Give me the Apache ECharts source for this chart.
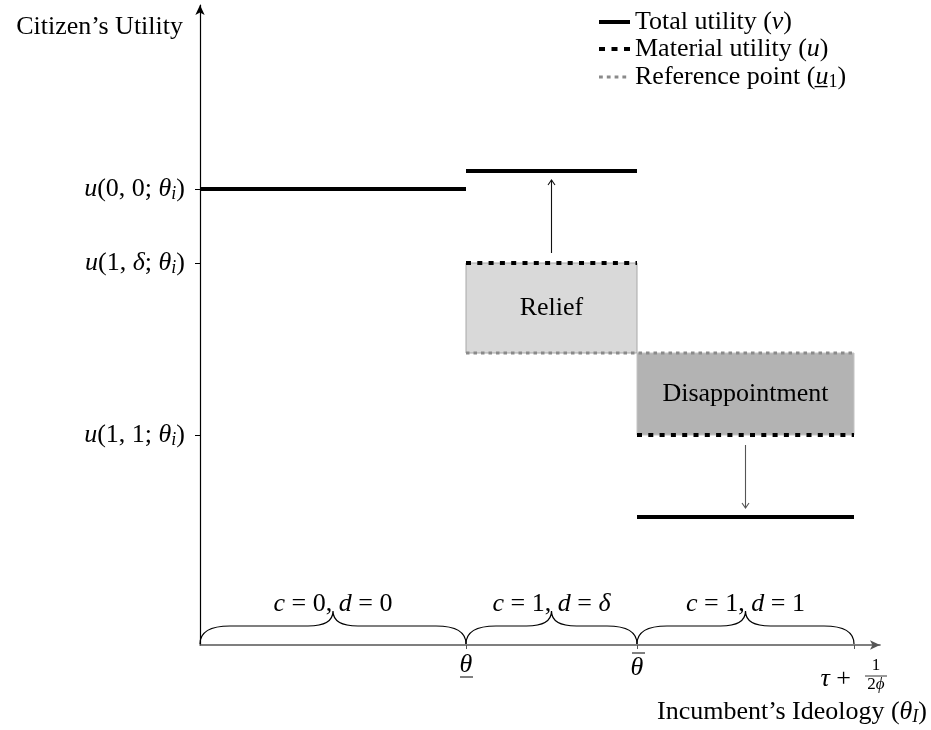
<!DOCTYPE html>
<html>
<head>
<meta charset="utf-8">
<script src="https://cdn.jsdelivr.net/npm/echarts@6/dist/echarts.min.js"></script>
<style>
  html, body { margin: 0; padding: 0; background: #fff; }
  #chart { width: 931px; height: 730px; }
</style>
</head>
<body>
<div id="chart"></div>
<script>
// regimes along the incumbent's ideology axis
const regimeStart = [0, 2.66, 4.37];
const regimeEnd = [2.66, 4.37, 6.54];
const regimeLabels = ['{i|c} = 0, {i|d} = 0', '{i|c} = 1, {i|d} = {i|δ}', '{i|c} = 1, {i|d} = 1'];

// utility levels in each regime (null = not drawn)
const totalLevel = [4.56, 4.74, 1.28];
const materialLevel = [null, 3.82, 2.10];
const referenceLevel = [null, 2.92, 2.92];

// shaded gaps between material utility and reference point
const boxLabels = [null, 'Relief', 'Disappointment'];

// axis ticks
const yTickValues = [4.56, 3.82, 2.10];
const yTickLabels = ['{i|u}(0, 0; {i|θ}{s|i})', '{i|u}(1, {i|δ}; {i|θ}{s|i})', '{i|u}(1, 1; {i|θ}{s|i})'];
const xTickValues = [2.66, 4.37, 6.54];
const xTickLabels = ['θ', 'θ', 'τ +'];

const xMax = 6.8;
const yMax = 6.4;

const FONT = 'Liberation Serif';
const FS = 26;

const richStyles = {
    i: { fontFamily: FONT, fontSize: FS, fontStyle: 'italic', color: '#000', lineHeight: 28 },
    s: { fontFamily: FONT, fontSize: 18, fontStyle: 'italic', color: '#000', lineHeight: 16, padding: [10, 0, 0, 0] }
};
const legendRich = {
    i: { fontFamily: FONT, fontSize: FS, fontStyle: 'italic', color: '#000', lineHeight: 24 },
    s: { fontFamily: FONT, fontSize: 18, color: '#000', lineHeight: 12, padding: [10, 0, 0, 0] }
};

// build broken polylines from the level arrays
function buildSegments(levels) {
    const pts = [];
    let prev = null;
    levels.forEach((lv, i) => {
        if (lv == null) { prev = null; return; }
        if (prev !== null && prev !== lv) pts.push([regimeStart[i], '-']);
        if (prev !== lv) pts.push([regimeStart[i], lv]);
        pts.push([regimeEnd[i], lv]);
        prev = lv;
    });
    return pts;
}

const boxData = [];
boxLabels.forEach((lb, i) => {
    if (lb == null) return;
    boxData.push([regimeStart[i], Math.min(materialLevel[i], referenceLevel[i]),
                  regimeEnd[i], Math.max(materialLevel[i], referenceLevel[i]), i]);
});
const arrowData = [];
boxLabels.forEach((lb, i) => {
    if (lb == null) return;
    arrowData.push([(regimeStart[i] + regimeEnd[i]) / 2, materialLevel[i], totalLevel[i]]);
});
const braceData = regimeStart.map((s, i) => [s, regimeEnd[i]]);
const boxFill = { 1: '#d9d9d9', 2: '#b3b3b3' };
const boxStroke = { 1: '#a8a8a8', 2: '#c4c4c4' };

const chart = echarts.init(document.getElementById('chart'));

const option = {
    animation: false,
    backgroundColor: '#fff',
    grid: { left: 200, right: 51, top: 5, bottom: 85 },
    legend: {
        orient: 'vertical',
        left: 597,
        top: 9,
        padding: 0,
        itemWidth: 31,
        itemHeight: 14,
        itemGap: 1,
        selectedMode: false,
        itemStyle: { opacity: 0 },
        textStyle: { fontFamily: FONT, fontSize: FS, color: '#000', lineHeight: 24, rich: legendRich },
        data: [
            { name: 'total', lineStyle: { width: 4 } },
            { name: 'material', lineStyle: { width: 4, type: [6, 6.5] } },
            { name: 'reference', lineStyle: { width: 3, type: [3.8, 4] } }
        ],
        formatter: function (name) {
            return {
                total: 'Total utility ({i|v})',
                material: 'Material utility ({i|u})',
                reference: 'Reference point ({i|u̲}{s|1})'
            }[name];
        }
    },
    xAxis: {
        type: 'value',
        min: 0,
        max: xMax,
        name: 'Incumbent’s Ideology ({i|θ}{s|I})',
        nameLocation: 'end',
        nameGap: 47,
        nameTextStyle: {
            fontFamily: FONT, fontSize: FS, color: '#000', align: 'right', verticalAlign: 'middle',
            lineHeight: 28, padding: [134, 0, 0, 0], rich: richStyles
        },
        axisLine: { show: true, symbol: ['none', 'arrow'], symbolSize: [7, 10], lineStyle: { color: '#555', width: 1.6 } },
        axisTick: { show: true, customValues: xTickValues, length: 4, lineStyle: { color: '#555', width: 1 } },
        axisLabel: { show: false },
        splitLine: { show: false }
    },
    yAxis: {
        type: 'value',
        min: 0,
        max: yMax,
        name: 'Citizen’s Utility',
        nameLocation: 'end',
        nameGap: -22,
        nameTextStyle: { fontFamily: FONT, fontSize: FS, color: '#000', align: 'right', verticalAlign: 'middle', padding: [0, 17, 0, 0] },
        axisLine: { show: true, symbol: ['none', 'arrow'], symbolSize: [7, 10], lineStyle: { color: '#000', width: 1.2 } },
        axisTick: { show: true, customValues: yTickValues, length: 5, lineStyle: { color: '#000', width: 1 } },
        axisLabel: {
            show: true,
            customValues: yTickValues,
            margin: 15,
            fontFamily: FONT, fontSize: FS, color: '#000', lineHeight: 28,
            rich: richStyles,
            formatter: function (v) {
                let best = 0;
                yTickValues.forEach((t, i) => { if (Math.abs(t - v) < Math.abs(yTickValues[best] - v)) best = i; });
                return yTickLabels[best];
            }
        },
        splitLine: { show: false }
    },
    series: [
        {
            type: 'custom',
            name: 'boxes',
            z: 1,
            silent: true,
            data: boxData,
            renderItem: function (params, api) {
                const k = api.value(4);
                const p0 = api.coord([api.value(0), api.value(3)]);
                const p1 = api.coord([api.value(2), api.value(1)]);
                return {
                    type: 'group',
                    children: [
                        { type: 'rect', shape: { x: p0[0], y: p0[1], width: p1[0] - p0[0], height: p1[1] - p0[1] },
                          style: { fill: boxFill[k], stroke: boxStroke[k], lineWidth: 1 } },
                        { type: 'text', style: { text: boxLabels[k], x: (p0[0] + p1[0]) / 2, y: (p0[1] + p1[1]) / 2,
                          align: 'center', verticalAlign: 'middle', fontFamily: FONT, fontSize: FS, fill: '#000' } }
                    ]
                };
            }
        },
        {
            type: 'line',
            name: 'reference',
            z: 2,
            symbol: 'none',
            silent: true,
            data: buildSegments(referenceLevel),
            lineStyle: { color: '#8a8a8a', width: 3, type: [3.5, 4] },
            itemStyle: { color: '#8a8a8a' }
        },
        {
            type: 'line',
            name: 'material',
            z: 3,
            symbol: 'none',
            silent: true,
            data: buildSegments(materialLevel),
            lineStyle: { color: '#000', width: 4, type: [5, 6.3] },
            itemStyle: { color: '#000' }
        },
        {
            type: 'line',
            name: 'total',
            z: 4,
            symbol: 'none',
            silent: true,
            data: buildSegments(totalLevel),
            lineStyle: { color: '#000', width: 4 },
            itemStyle: { color: '#000' }
        },
        {
            type: 'custom',
            name: 'arrows',
            z: 5,
            silent: true,
            data: arrowData,
            renderItem: function (params, api) {
                const a = api.coord([api.value(0), api.value(1)]);
                const b = api.coord([api.value(0), api.value(2)]);
                const dir = b[1] < a[1] ? -1 : 1;
                const y0 = a[1] + dir * 10;
                const y1 = b[1] - dir * 9;
                const color = dir < 0 ? '#111' : '#555';
                return {
                    type: 'group',
                    children: [
                        { type: 'line', shape: { x1: a[0], y1: y0, x2: a[0], y2: y1 }, style: { stroke: color, lineWidth: 1.1 } },
                        { type: 'polyline', shape: { points: [[a[0] - 3.5, y1 - dir * 5], [a[0], y1], [a[0] + 3.5, y1 - dir * 5]] },
                          style: { stroke: color, lineWidth: 1.1, fill: 'none' } }
                    ]
                };
            }
        },
        {
            type: 'custom',
            name: 'braces',
            z: 5,
            silent: true,
            data: braceData,
            renderItem: function (params, api) {
                const a = api.coord([api.value(0), 0]);
                const b = api.coord([api.value(1), 0]);
                const y0 = a[1] - 1;
                const yf = y0 - 18;
                const yt = y0 - 33;
                const xm = (a[0] + b[0]) / 2;
                const r1 = 30, r2 = 25;
                const d = 'M' + a[0] + ' ' + y0 +
                    ' Q' + a[0] + ' ' + yf + ' ' + (a[0] + r1) + ' ' + yf +
                    ' L' + (xm - r2) + ' ' + yf +
                    ' Q' + xm + ' ' + yf + ' ' + xm + ' ' + yt +
                    ' Q' + xm + ' ' + yf + ' ' + (xm + r2) + ' ' + yf +
                    ' L' + (b[0] - r1) + ' ' + yf +
                    ' Q' + b[0] + ' ' + yf + ' ' + b[0] + ' ' + y0;
                return {
                    type: 'group',
                    children: [
                        { type: 'path', shape: { pathData: d }, style: { fill: 'none', stroke: '#000', lineWidth: 1.2 } },
                        { type: 'text', style: { text: regimeLabels[params.dataIndex], x: xm, y: yt - 7,
                          align: 'center', verticalAlign: 'middle', fontFamily: FONT, fontSize: FS, fill: '#000',
                          lineHeight: 28, rich: richStyles } }
                    ]
                };
            }
        },
        {
            type: 'custom',
            name: 'xlabels',
            z: 5,
            silent: true,
            data: xTickValues.map(v => [v, 0]),
            renderItem: function (params, api) {
                const i = params.dataIndex;
                const p = api.coord([api.value(0), 0]);
                const italic = { fontFamily: FONT, fontSize: FS, fontStyle: 'italic', fill: '#000' };
                const kids = [];
                if (i === 0) {
                    kids.push({ type: 'text', style: Object.assign({ text: xTickLabels[i], x: p[0], y: p[1] + 20, align: 'center', verticalAlign: 'middle' }, italic) });
                    kids.push({ type: 'line', shape: { x1: p[0] - 6, y1: p[1] + 32, x2: p[0] + 7, y2: p[1] + 32 }, style: { stroke: '#000', lineWidth: 1 } });
                } else if (i === 1) {
                    kids.push({ type: 'text', style: Object.assign({ text: xTickLabels[i], x: p[0], y: p[1] + 23, align: 'center', verticalAlign: 'middle' }, italic) });
                    kids.push({ type: 'line', shape: { x1: p[0] - 5, y1: p[1] + 8, x2: p[0] + 8, y2: p[1] + 8 }, style: { stroke: '#000', lineWidth: 1 } });
                } else {
                    kids.push({ type: 'text', style: { text: '{i|τ} +', x: p[0] - 3, y: p[1] + 34, align: 'right', verticalAlign: 'middle',
                        fontFamily: FONT, fontSize: FS, fill: '#000', lineHeight: 28, rich: richStyles } });
                    kids.push({ type: 'text', style: { text: '1', x: p[0] + 22, y: p[1] + 21, align: 'center', verticalAlign: 'middle', fontFamily: FONT, fontSize: 17, fill: '#000' } });
                    kids.push({ type: 'line', shape: { x1: p[0] + 11, y1: p[1] + 31, x2: p[0] + 33, y2: p[1] + 31 }, style: { stroke: '#000', lineWidth: 0.8 } });
                    kids.push({ type: 'text', style: { text: '2{f|ϕ}', x: p[0] + 22, y: p[1] + 40, align: 'center', verticalAlign: 'middle', fontFamily: FONT, fontSize: 17, fill: '#000',
                        rich: { f: { fontFamily: FONT, fontSize: 17, fontStyle: 'italic', color: '#000' } } } });
                }
                return { type: 'group', children: kids };
            }
        }
    ]
};

chart.setOption(option);
</script>
</body>
</html>
